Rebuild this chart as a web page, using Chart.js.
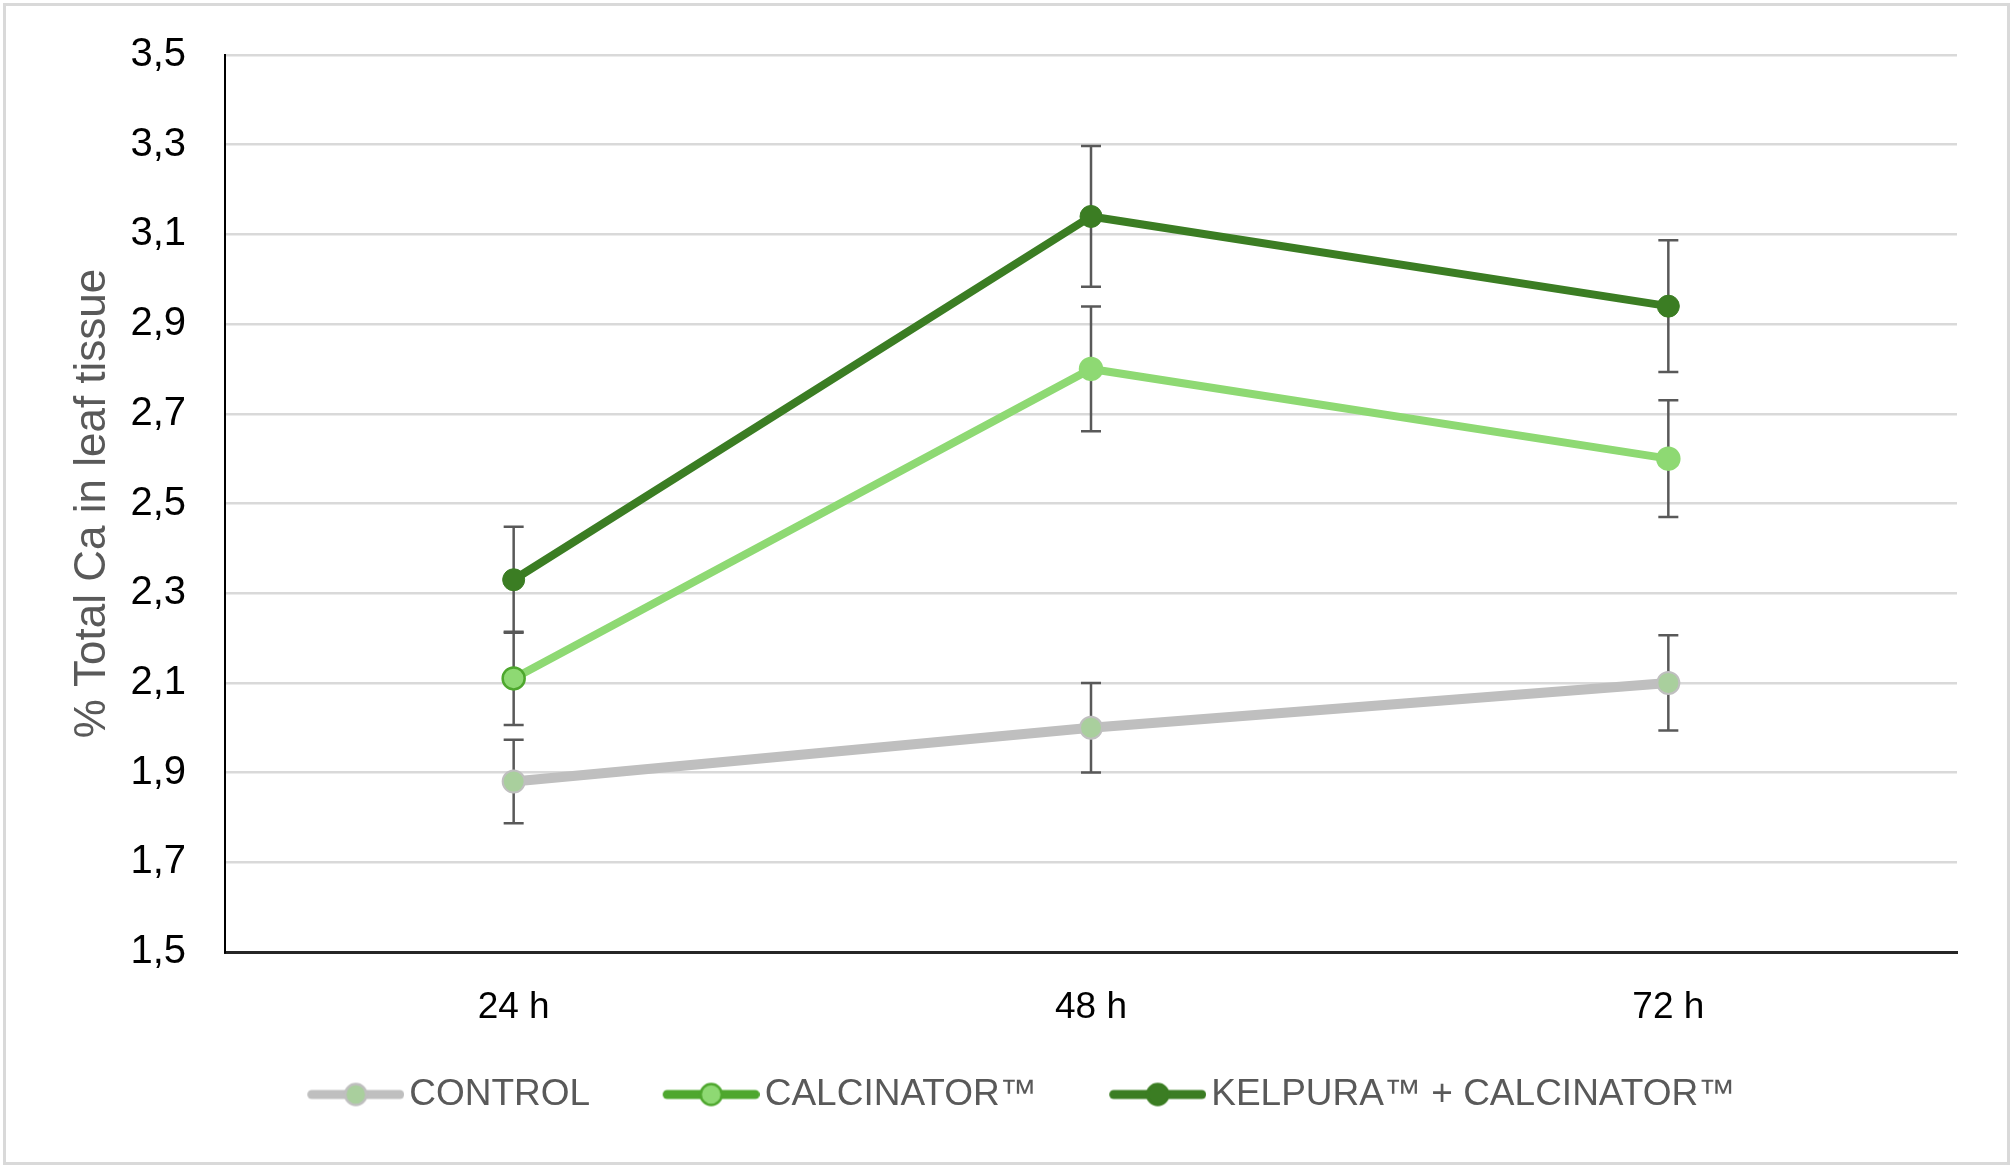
<!DOCTYPE html>
<html>
<head>
<meta charset="utf-8">
<script src="https://cdn.jsdelivr.net/npm/chart.js@4.4.1/dist/chart.umd.min.js"></script>
<style>
    body { margin: 0; background: #fff; }
    #wrap { position: relative; width: 2016px; height: 1173px; }
    #frame { position: absolute; left: 3px; top: 3px; right: 6px; bottom: 8px; border: 3px solid #d9d9d9; pointer-events: none; }
</style>
</head>
<body>
<div id="wrap">
    <canvas id="myChart" width="2016" height="1173"></canvas>
    <div id="frame"></div>
</div>
<script>
// data
const categories = ['24 h', '48 h', '72 h'];
const seriesNames = ['CONTROL', 'CALCINATOR\u2122', 'KELPURA\u2122 + CALCINATOR\u2122'];

const controlValues = [1.88, 2.00, 2.10];
const controlErrors = [0.093, 0.10, 0.106];
const calcinatorValues = [2.11, 2.80, 2.60];
const calcinatorErrors = [0.104, 0.139, 0.13];
const kelpuraValues = [2.33, 3.14, 2.94];
const kelpuraErrors = [0.118, 0.157, 0.147];

const yMin = 1.5;
const yMax = 3.5;
const yStep = 0.2;

const fontFamily = '"Liberation Sans", Arial, sans-serif';

// legend marker: a short line with a dot in the middle
function legendMarker(lineColor, dotColor, dotBorder) {
    const m = 36;
    const c = document.createElement('canvas');
    c.width = 133;
    c.height = 30;
    const g = c.getContext('2d');
    g.lineCap = 'round';
    g.lineWidth = 9;
    g.strokeStyle = lineColor;
    g.beginPath();
    g.moveTo(m + 4.5, 15);
    g.lineTo(c.width - 4.5, 15);
    g.stroke();
    g.beginPath();
    g.arc(m + 48.5, 15, 10.5, 0, Math.PI * 2);
    g.fillStyle = dotColor;
    g.fill();
    g.lineWidth = 2.5;
    g.strokeStyle = dotBorder;
    g.stroke();
    return c;
}

const markers = [
    legendMarker('#bfbfbf', '#a9cf9d', '#bfbfbf'),
    legendMarker('#4ea72e', '#8ed973', '#4ea72e'),
    legendMarker('#3b7d23', '#3b7d23', '#3b7d23')
];

const errorBars = {
    id: 'errorBars',
    beforeDatasetsDraw(chart) {
        const ctx = chart.ctx;
        const x = chart.scales.x;
        const y = chart.scales.y;
        ctx.save();
        ctx.strokeStyle = '#595959';
        ctx.lineWidth = 2.5;
        chart.data.datasets.forEach((ds) => {
            ds.data.forEach((v, i) => {
                const px = x.getPixelForValue(i);
                const top = y.getPixelForValue(v + ds.errors[i]);
                const bot = y.getPixelForValue(v - ds.errors[i]);
                ctx.beginPath();
                ctx.moveTo(px, top);
                ctx.lineTo(px, bot);
                ctx.moveTo(px - 10, top);
                ctx.lineTo(px + 10, top);
                ctx.moveTo(px - 10, bot);
                ctx.lineTo(px + 10, bot);
                ctx.stroke();
            });
        });
        ctx.restore();
    }
};

const ctx = document.getElementById('myChart').getContext('2d');
const myChart = new Chart(ctx, {
    type: 'line',
    data: {
        labels: categories,
        datasets: [
            {
                label: seriesNames[0],
                data: controlValues,
                errors: controlErrors,
                borderColor: '#bfbfbf',
                borderWidth: 10,
                pointRadius: 11,
                pointBackgroundColor: '#a9cf9d',
                pointBorderColor: '#bfbfbf',
                pointBorderWidth: 2,
                order: 3
            },
            {
                label: seriesNames[1],
                data: calcinatorValues,
                errors: calcinatorErrors,
                borderColor: '#8ed973',
                borderWidth: 8,
                pointRadius: 11,
                pointBackgroundColor: '#8ed973',
                pointBorderColor: ['#4ea72e', '#8ed973', '#8ed973'],
                pointBorderWidth: 2.5,
                order: 2
            },
            {
                label: seriesNames[2],
                data: kelpuraValues,
                errors: kelpuraErrors,
                borderColor: '#3b7d23',
                borderWidth: 8,
                pointRadius: 11,
                pointBackgroundColor: '#3b7d23',
                pointBorderColor: '#3b7d23',
                pointBorderWidth: 1,
                order: 1
            }
        ]
    },
    options: {
        responsive: false,
        animation: false,
        events: [],
        layout: {
            padding: { left: 63, right: 59, top: 55, bottom: 50 }
        },
        plugins: {
            tooltip: { enabled: false },
            legend: {
                display: true,
                position: 'bottom',
                labels: {
                    usePointStyle: true,
                    pointStyleWidth: 106,
                    padding: 50,
                    color: '#595959',
                    font: { family: fontFamily, size: 37 },
                    sort: (a, b) => a.datasetIndex - b.datasetIndex,
                    generateLabels: (chart) => {
                        const items = Chart.defaults.plugins.legend.labels.generateLabels(chart);
                        items.forEach((it) => { it.pointStyle = markers[it.datasetIndex]; });
                        return items;
                    }
                }
            }
        },
        scales: {
            x: {
                offset: true,
                grid: { display: false, drawTicks: false },
                border: { display: true, color: '#262626', width: 3 },
                ticks: {
                    color: '#000',
                    padding: 34,
                    font: { family: fontFamily, size: 37 }
                },
                afterFit: (scale) => { scale.height = 74; }
            },
            y: {
                min: yMin,
                max: yMax,
                grid: { color: '#d9d9d9', lineWidth: 2.5, drawTicks: false },
                border: { display: true, color: '#000', width: 2 },
                ticks: {
                    stepSize: yStep,
                    color: '#000',
                    padding: 39,
                    font: { family: fontFamily, size: 40 },
                    callback: (v) => Number(v).toFixed(1).replace('.', ',')
                },
                title: {
                    display: true,
                    text: '% Total Ca in leaf tissue',
                    color: '#595959',
                    padding: { top: 3, bottom: 0 },
                    font: { family: fontFamily, size: 44 }
                },
                afterFit: (scale) => {
                    scale.width = 162;
                    scale.paddingTop = 10;
                    scale.paddingBottom = 10;
                }
            }
        }
    },
    plugins: [errorBars]
});
</script>
</body>
</html>
